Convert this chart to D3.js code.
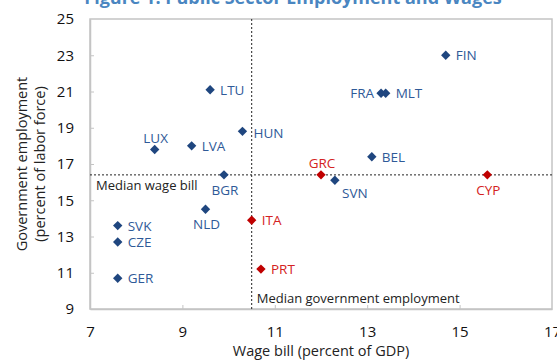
<!DOCTYPE html>
<html>
<head>
<meta charset="utf-8">
<script src="https://cdn.jsdelivr.net/npm/d3@7"></script>
<style>
  html, body { margin: 0; padding: 0; background: #fff; }
  svg { display: block; font-family: "Open Sans", "Noto Sans", sans-serif; }
</style>
</head>
<body>
<svg id="chart" width="557" height="360"></svg>
<script>
// Wage bill (percent of GDP) vs. government employment (percent of labor force)
const countries  = ["FIN", "FRA", "MLT", "LTU", "HUN", "LUX", "LVA", "BEL", "BGR", "GRC", "CYP", "SVN", "NLD", "ITA", "SVK", "CZE", "PRT", "GER"];
const wageBill   = [14.7, 13.3, 13.4, 9.6, 10.3, 8.4, 9.2, 13.1, 9.9, 12.0, 15.6, 12.3, 9.5, 10.5, 7.6, 7.6, 10.7, 7.6];
const govEmploy  = [23.0, 20.9, 20.9, 21.1, 18.8, 17.8, 18.0, 17.4, 16.4, 16.4, 16.4, 16.1, 14.5, 13.9, 13.6, 12.7, 11.2, 10.7];
const programCountries = ["GRC", "CYP", "ITA", "PRT"];

const medianWageBill = 10.5;
const medianGovEmploy = 16.4;

const xTicks = [7, 9, 11, 13, 15, 17];
const yTicks = [9, 11, 13, 15, 17, 19, 21, 23, 25];

const svg = d3.select("#chart");
const plot = { left: 90, top: 19, right: 552, bottom: 309 };

const x = d3.scaleLinear().domain([7, 17]).range([plot.left, plot.right]);
const y = d3.scaleLinear().domain([9, 25]).range([plot.bottom, plot.top]);

const frameColor = "#c4c4c4";

// Title (partly above the top edge)
svg.append("text")
  .attr("x", 293).attr("y", 4)
  .attr("text-anchor", "middle")
  .attr("font-size", 18).attr("font-weight", "bold")
  .attr("fill", "#4a86c1")
  .text("Figure 1. Public Sector Employment and Wages");

// Plot frame
svg.append("rect")
  .attr("x", plot.left).attr("y", plot.top)
  .attr("width", plot.right - plot.left).attr("height", plot.bottom - plot.top)
  .attr("fill", "none").attr("stroke", frameColor).attr("stroke-width", 1.5);

// Axes with inward ticks
const xAxis = svg.append("g")
  .attr("transform", `translate(0,${plot.bottom})`)
  .call(d3.axisBottom(x).tickValues(xTicks).tickSizeInner(-4).tickSizeOuter(0).tickPadding(17));
const yAxis = svg.append("g")
  .attr("transform", `translate(${plot.left},0)`)
  .call(d3.axisLeft(y).tickValues(yTicks).tickSizeInner(-4).tickSizeOuter(0).tickPadding(16));

[xAxis, yAxis].forEach(g => {
  g.select(".domain").attr("stroke", frameColor).attr("stroke-width", 1.5);
  g.selectAll(".tick line").attr("stroke", frameColor).attr("stroke-width", 1);
  g.selectAll(".tick text")
    .attr("font-family", "'Open Sans', 'Noto Sans', sans-serif")
    .attr("font-size", 15).attr("fill", "#111");
});
// hide tick marks sitting on the frame corners
xAxis.selectAll(".tick").filter(d => d === 7 || d === 17).select("line").remove();
yAxis.selectAll(".tick").filter(d => d === 9 || d === 25).select("line").remove();

// Median reference lines
svg.append("line")
  .attr("x1", plot.left).attr("x2", plot.right)
  .attr("y1", y(medianGovEmploy)).attr("y2", y(medianGovEmploy))
  .attr("stroke", "#222").attr("stroke-width", 1).attr("stroke-dasharray", "2,2");
svg.append("line")
  .attr("x1", x(medianWageBill)).attr("x2", x(medianWageBill))
  .attr("y1", plot.top).attr("y2", plot.bottom)
  .attr("stroke", "#222").attr("stroke-width", 1).attr("stroke-dasharray", "2,2");

svg.append("text")
  .attr("x", plot.left + 6).attr("y", y(medianGovEmploy) + 15)
  .attr("font-size", 13).attr("fill", "#222")
  .text("Median wage bill");
svg.append("text")
  .attr("x", x(medianWageBill) + 5).attr("y", plot.bottom - 6)
  .attr("font-size", 13).attr("fill", "#222")
  .text("Median government employment");

// Axis titles
svg.append("text")
  .attr("x", (plot.left + plot.right) / 2).attr("y", 356)
  .attr("text-anchor", "middle").attr("font-size", 14.5).attr("fill", "#222")
  .text("Wage bill (percent of GDP)");

const yTitle = svg.append("text")
  .attr("transform", `translate(27,${(plot.top + plot.bottom) / 2}) rotate(-90)`)
  .attr("text-anchor", "middle").attr("font-size", 14.5).attr("fill", "#222");
yTitle.append("tspan").attr("x", 0).attr("dy", 0).text("Government employment");
yTitle.append("tspan").attr("x", 0).attr("dy", 18).text("(percent of labor force)");

// Points
const points = countries.map((c, i) => ({
  code: c, wage: wageBill[i], emp: govEmploy[i],
  program: programCountries.includes(c)
}));

const markerBlue = "#1f467f", labelBlue = "#2f5a98";
const markerRed = "#c00000", labelRed = "#d42222";

const diamond = d3.symbol().type(d3.symbolSquare).size(44);
svg.append("g").selectAll("path")
  .data(points)
  .join("path")
  .attr("d", diamond)
  .attr("transform", d => `translate(${x(d.wage)},${y(d.emp)}) rotate(45)`)
  .attr("fill", d => d.program ? markerRed : markerBlue);

// Label placement around each marker
const placement = {
  FIN: "right", FRA: "left", MLT: "right", LTU: "right", HUN: "rightlow",
  LUX: "above", LVA: "right", BEL: "right", BGR: "below", GRC: "above",
  CYP: "below", SVN: "belowright", NLD: "below", ITA: "right", SVK: "right",
  CZE: "right", PRT: "right", GER: "right"
};
const offsets = {
  right:      { dx: 10, dy: 5, anchor: "start" },
  rightlow:   { dx: 11, dy: 7, anchor: "start" },
  left:       { dx: -7, dy: 5, anchor: "end" },
  above:      { dx: 1, dy: -7, anchor: "middle" },
  below:      { dx: 1, dy: 20, anchor: "middle" },
  belowright: { dx: 20, dy: 18, anchor: "middle" }
};

svg.append("g").selectAll("text")
  .data(points)
  .join("text")
  .attr("x", d => x(d.wage) + offsets[placement[d.code]].dx)
  .attr("y", d => y(d.emp) + offsets[placement[d.code]].dy)
  .attr("text-anchor", d => offsets[placement[d.code]].anchor)
  .attr("font-size", 13.5)
  .attr("fill", d => d.program ? labelRed : labelBlue)
  .text(d => d.code);
</script>
</body>
</html>
